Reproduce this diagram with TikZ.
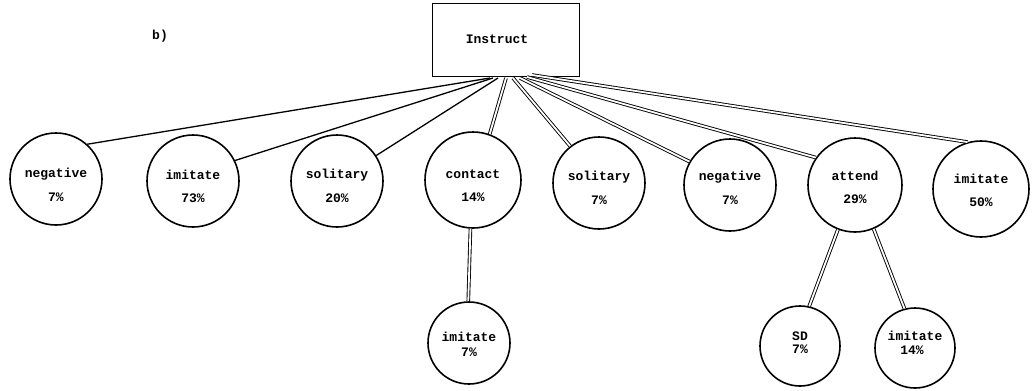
\documentclass[tikz,border=0pt]{standalone}
\usepackage{fontspec}
\setmonofont{Liberation Mono}
\begin{document}
\begin{tikzpicture}[x=1pt,y=-1pt,
  every node/.style={font=\fontsize{13}{15}\selectfont\ttfamily\bfseries},
  bubble/.style={circle, draw, line width=1.6pt, inner sep=0pt, minimum size=#1},
  bubble/.default=92pt,
  single/.style={line width=1.3pt},
  dbl/.style={double, line width=0.9pt, double distance=1.8pt}]
\useasboundingbox (0,0) rectangle (1034,391);
\fill[white] (0,0) rectangle (1034,391);
\node[draw, line width=1.6pt, minimum width=147pt, minimum height=73pt] (box) at (506,40) {};
\node (boxlbl) at (497,39) {Instruct};
\node (lbl) at (160,36) {b)};
% circles
\node[bubble] (neg1) at (56,179) {};
\node[bubble] (imi1) at (193,181) {};
\node[bubble] (sol1) at (337,181) {};
\node[bubble=96pt] (con) at (473,180) {};
\node[bubble] (sol2) at (599,183) {};
\node[bubble] (neg2) at (730,185) {};
\node[bubble=94pt] (att) at (855,185) {};
\node[bubble=96pt] (imi3) at (981,189) {};
\node[bubble=82pt] (imi2) at (469,343) {};
\node[bubble=80pt] (sd) at (800,346) {};
\node[bubble=80pt] (imi4) at (915,348) {};
% texts
\node at (56,174) {negative}; \node at (56,197) {7\%};
\node at (193,175) {imitate}; \node at (193,198) {73\%};
\node at (337,175) {solitary}; \node at (337,198) {20\%};
\node at (473,174) {contact}; \node at (473,197) {14\%};
\node at (599,177) {solitary}; \node at (599,200) {7\%};
\node at (730,177) {negative}; \node at (730,200) {7\%};
\node at (855,176) {attend}; \node at (855,199) {29\%};
\node at (981,179) {imitate}; \node at (981,202) {50\%};
\node at (469,337) {imitate}; \node at (469,352) {7\%};
\node at (800,336) {SD}; \node at (800,349) {7\%};
\node at (915,336) {imitate}; \node at (912,350) {14\%};
% start points on box bottom
\coordinate (s1) at (490,78);
\coordinate (s2) at (493,78);
\coordinate (s3) at (498,78);
\coordinate (s4) at (506,78);
\coordinate (s5) at (513,78);
\coordinate (s6) at (520,78);
\coordinate (s7) at (527,77);
\coordinate (s8) at (532,75);
\draw[single] (s1) -- (neg1.48);
\draw[single] (s2) -- (imi1.26);
\draw[single] (s3) -- (sol1.33);
\draw[dbl] (s4) -- (con.70);
\draw[dbl] (s5) -- (sol2.128);
\draw[dbl] (s6) -- (neg2.150);
\draw[dbl] (s7) -- (att.145);
\draw[dbl] (s8) -- (imi3.106);
\draw[dbl] (con.-93) -- (imi2.91);
\draw[dbl] (att.-111) -- (sd.77);
\draw[dbl] (att.-67) -- (imi4.105);
\end{tikzpicture}
\end{document}
